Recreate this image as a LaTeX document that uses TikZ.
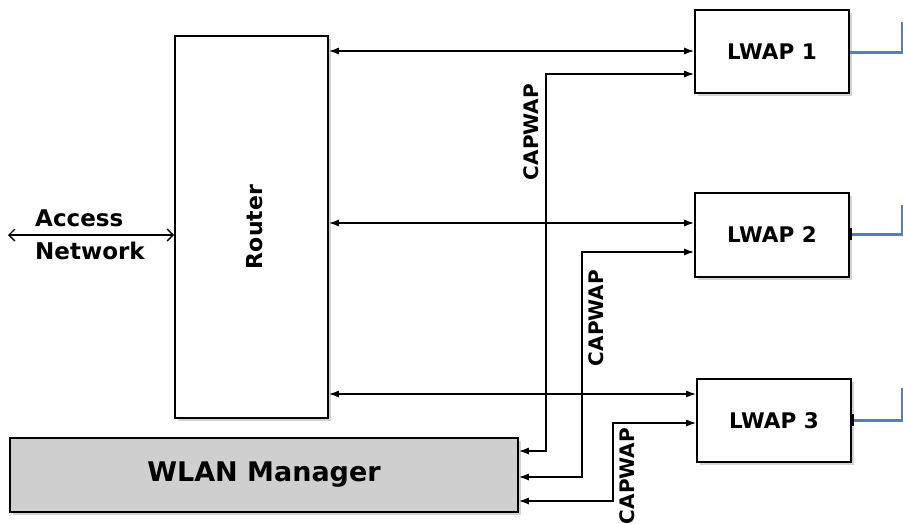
\documentclass[tikz,border=0pt]{standalone}
\usepackage{fontspec}
\setmainfont{DejaVu Sans}
\usetikzlibrary{shadows,arrows.meta}
\tikzstyle{box}=[draw=black, line width=1.6pt, fill=white, inner sep=0, font=\bfseries\fontsize{21.5}{24}\selectfont, drop shadow={opacity=0.35, shadow xshift=2.5pt, shadow yshift=-2.5pt}]
\tikzstyle{graybox}=[box, fill=black!19]
\tikzstyle{link}=[line width=1.4pt, {Latex[length=10pt,width=7pt]}-{Latex[length=10pt,width=7pt]}]
\tikzstyle{lbl}=[font=\bfseries\fontsize{20}{22}\selectfont, inner sep=0]
\tikzstyle{antenna}=[draw={rgb,255:red,79;green,129;blue,189}, line width=3pt]
\begin{document}
\begin{tikzpicture}[x=1pt, y=-1pt]
\useasboundingbox (0,0) rectangle (903,523);
\node[box, minimum width=153pt, minimum height=382pt] (R) at (251.5,227) {};
\node[lbl, rotate=90, font=\bfseries\fontsize{22}{24}\selectfont] (Rt) at (255,227) {Router};
\node[graybox, minimum width=508pt, minimum height=74pt, font=\bfseries\fontsize{27}{30}\selectfont] (W) at (264,475) {WLAN Manager};
\node[box, minimum width=154pt, minimum height=83pt] (L1) at (772,51.5) {LWAP 1};
\node[box, minimum width=154pt, minimum height=84pt] (L2) at (772,235) {LWAP 2};
\node[box, minimum width=154pt, minimum height=83pt] (L3) at (774,420.5) {LWAP 3};
\coordinate (A0) at (8,235);
\draw[line width=1.4pt, {Straight Barb[length=6pt,width=12pt]}-{Straight Barb[length=6pt,width=12pt]}] (A0) -- (R.west |- A0);
\node[lbl, anchor=west, font=\bfseries\fontsize{23}{26}\selectfont] (Acc) at (35,218) {Access};
\node[lbl, anchor=west, font=\bfseries\fontsize{23}{26}\selectfont] (Net) at (35,251) {Network};
\draw[link] (R.east |- 0,51) -- (L1.west |- 0,51);
\draw[link] (R.east |- 0,223) -- (L2.west |- 0,223);
\draw[link] (R.east |- 0,394) -- (L3.west |- 0,394);
\draw[link] (L1.west |- 0,74) -- (546,74) -- (546,451) -- (W.east |- 0,451);
\draw[link] (L2.west |- 0,252) -- (582,252) -- (582,477) -- (W.east |- 0,477);
\draw[link] (L3.west |- 0,423) -- (613,423) -- (613,501) -- (W.east |- 0,501);
\node[lbl, rotate=90] (C1) at (531,132) {CAPWAP};
\node[lbl, rotate=90] (C2) at (596,318) {CAPWAP};
\node[lbl, rotate=90] (C3) at (627,476) {CAPWAP};
\foreach \x/\y/\t in {1/52/22, 2/234/205, 3/420/388}
{
\coordinate (B\x) at (902,\t);
\draw[antenna] (L\x.east |- 0,\y) -- (902,\y) -- (B\x);
}
\draw[line width=3.5pt] (L2.east |- 0,228) -- (L2.east |- 0,240);
\draw[line width=3.5pt] (L3.east |- 0,414) -- (L3.east |- 0,426);
\end{tikzpicture}
\end{document}
